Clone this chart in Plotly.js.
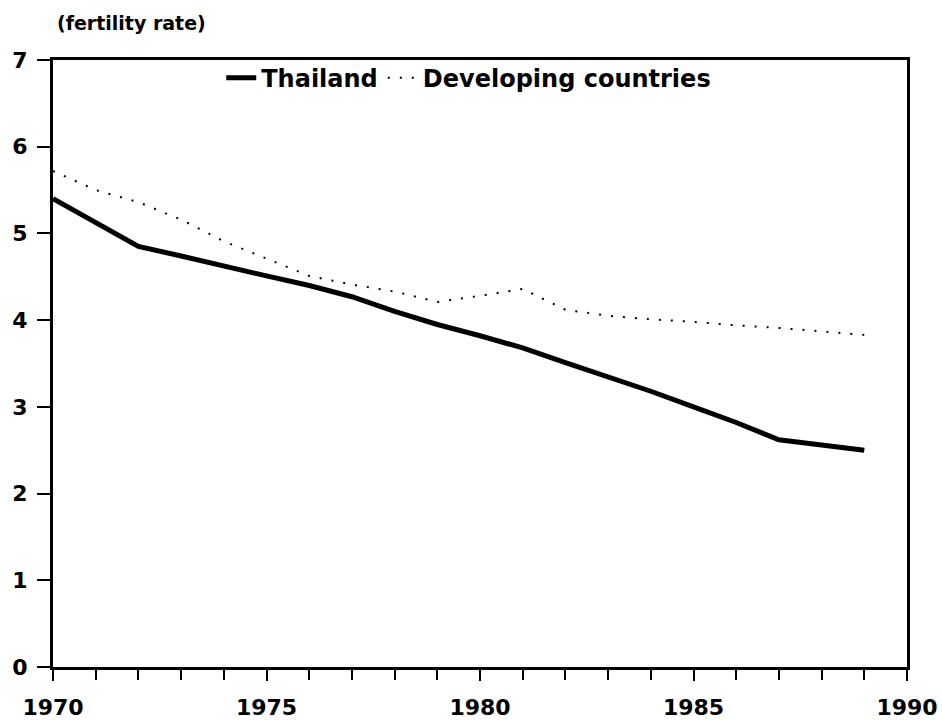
<!DOCTYPE html>
<html>
<head>
<meta charset="utf-8">
<script src="https://cdn.plot.ly/plotly-3.0.1.min.js"></script>
<style>html,body{margin:0;padding:0;background:#fff;}</style>
</head>
<body>
<div id="chart" style="width:942px;height:720px;"></div>
<script>
const years = [1970,1971,1972,1973,1974,1975,1976,1977,1978,1979,1980,1981,1982,1983,1984,1985,1986,1987,1988,1989];
const thailand = [5.40,5.12,4.85,4.74,4.62,4.51,4.40,4.27,4.10,3.95,3.82,3.68,3.51,3.35,3.18,3.00,2.82,2.62,2.56,2.50];
const developing = [5.72,5.50,5.36,5.16,4.91,4.71,4.51,4.41,4.33,4.21,4.28,4.36,4.12,4.05,4.01,3.98,3.94,3.91,3.87,3.83];
const seriesNames = ["Thailand", "Developing countries"];
const yTitle = "(fertility rate)";
const xTicks = [1970,1975,1980,1985,1990];
const yTicks = [0,1,2,3,4,5,6,7];

const boldFont = {family: "DejaVu Sans, Arial, sans-serif", color: "#000", weight: "bold"};

const traces = [
  {x: years, y: thailand, name: seriesNames[0], mode: "lines", type: "scatter",
   line: {color: "#000", width: 5}},
  {x: years, y: developing, name: seriesNames[1], mode: "lines", type: "scatter",
   line: {color: "#000", width: 2, dash: "2px,10px"}}
];

const layout = {
  width: 942, height: 720,
  margin: {l: 53, r: 35, t: 60, b: 53},
  paper_bgcolor: "#fff", plot_bgcolor: "#fff",
  showlegend: true,
  legend: {orientation: "h", x: 0.197, xanchor: "left", y: 0.97, yanchor: "middle",
           font: Object.assign({}, boldFont, {size: 24}), bgcolor: "rgba(0,0,0,0)",
           itemwidth: 30},
  xaxis: {range: [1970, 1990], tickvals: xTicks, ticktext: xTicks.map(String),
          showgrid: false, zeroline: false, showline: true, linecolor: "#000", linewidth: 3,
          mirror: true, ticks: "outside", ticklen: 11, tickwidth: 2, tickcolor: "#000",
          minor: {dtick: 1, ticks: "outside", ticklen: 10, tickwidth: 2, tickcolor: "#000"},
          tickfont: Object.assign({}, boldFont, {size: 22}), ticklabelstandoff: 8},
  yaxis: {range: [0, 7], tickvals: yTicks, ticktext: yTicks.map(String),
          showgrid: false, zeroline: false, showline: true, linecolor: "#000", linewidth: 3,
          mirror: true, ticks: "outside", ticklen: 13, tickwidth: 2, tickcolor: "#000",
          tickfont: Object.assign({}, boldFont, {size: 22}), ticklabelstandoff: 5},
  annotations: [
    {text: yTitle, xref: "paper", yref: "paper", x: 0.002, y: 1 + 37/607,
     xanchor: "left", yanchor: "middle", showarrow: false,
     font: Object.assign({}, boldFont, {size: 19})}
  ]
};

Plotly.newPlot("chart", traces, layout, {displayModeBar: false, staticPlot: true});
</script>
</body>
</html>
